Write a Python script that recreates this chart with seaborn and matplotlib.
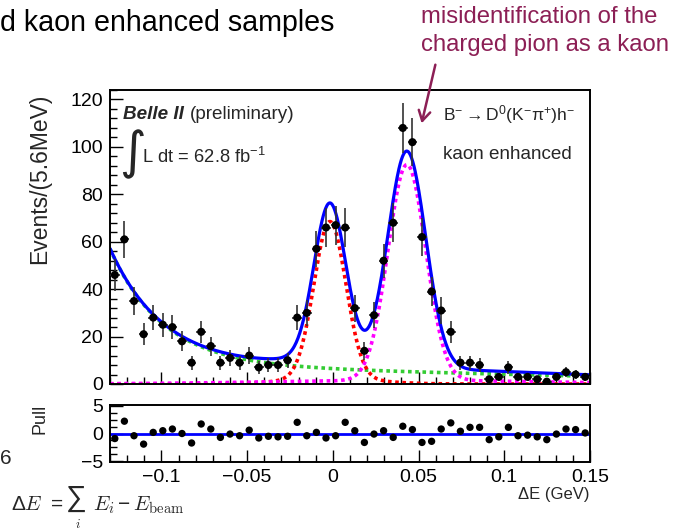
import numpy as np
import pandas as pd
import matplotlib
matplotlib.use("Agg")
import matplotlib.pyplot as plt
from matplotlib.ticker import MultipleLocator, AutoMinorLocator, FuncFormatter
import seaborn as sns

# Delta E histogram: 50 bins of 5.6 MeV between -0.13 and 0.15 GeV
x_lo, x_hi, n_bins = -0.13, 0.15, 50
counts = [46, 61, 35, 21, 28, 25, 24, 18, 9, 22,
          16, 9, 11, 9, 12, 7, 8, 8, 10, 28,
          30, 57, 66, 67, 66, 32, 14, 29, 52, 68,
          108, 102, 62, 39, 31, 22, 9, 9, 8, 2,
          3, 7, 3, 3, 2, 1, 3, 5, 4, 3]
pulls = [-0.9, 2.2, -0.4, -1.9, 0.2, 0.5, 0.8, 0.0, -1.7, 1.7,
         0.8, -0.7, -0.1, -0.4, 0.6, -0.8, -0.5, -0.6, -0.5, 2.0,
         -0.4, 0.2, -0.8, -0.4, 2.0, 0.5, -1.6, -0.1, 0.5, -0.7,
         1.3, 0.7, -1.6, -1.4, 0.8, 1.9, 0.4, 1.1, 1.1, -1.1,
         -0.6, 1.1, -0.4, -0.3, -0.6, -1.1, -0.1, 0.8, 0.7, 0.1]

# fitted model components (events per bin)
bkg_exp_amp, bkg_exp_tau = 49.0, 0.0306          # falling continuum
bkg_lin_c0, bkg_lin_c1 = 5.8, -17.0              # flat part of continuum
dk_amp, dk_mean, dk_sigma = 66.0, -0.0017, 0.0093        # B -> D K peak
dk_tail_amp, dk_tail_sigma = 2.5, 0.025
dpi_amp, dpi_mean, dpi_sigma = 91.0, 0.0432, 0.011       # B -> D pi (misID) peak
dpi_tail_amp, dpi_tail_sigma = 1.5, 0.08

x_ticks = [-0.1, -0.05, 0, 0.05, 0.1, 0.15]

bin_w = (x_hi - x_lo) / n_bins
centers = x_lo + bin_w * (np.arange(n_bins) + 0.5)
counts = np.array(counts, dtype=float)
data = pd.DataFrame({"dE": centers, "n": counts, "err": np.sqrt(counts), "pull": pulls})


def gauss(x, a, m, s):
    return a * np.exp(-0.5 * ((x - m) / s) ** 2)


xs = np.linspace(x_lo, x_hi, 800)
bkg = bkg_exp_amp * np.exp(-(xs - x_lo) / bkg_exp_tau) + bkg_lin_c0 + bkg_lin_c1 * xs
dk = gauss(xs, dk_amp, dk_mean, dk_sigma) + gauss(xs, dk_tail_amp, dk_mean, dk_tail_sigma)
dpi = gauss(xs, dpi_amp, dpi_mean, dpi_sigma) + gauss(xs, dpi_tail_amp, dpi_mean, dpi_tail_sigma)
model = pd.DataFrame({"dE": xs, "bkg": bkg, "dk": dk, "dpi": dpi, "total": bkg + dk + dpi})

sns.set_theme(style="ticks")
plt.rcParams["font.family"] = ["Liberation Sans", "DejaVu Sans"]
plt.rcParams["mathtext.fontset"] = "custom"
plt.rcParams["mathtext.rm"] = "Liberation Sans"
plt.rcParams["mathtext.it"] = "Liberation Sans:italic"
plt.rcParams["mathtext.default"] = "regular"

W, H = 673, 531
fig = plt.figure(figsize=(W / 100, H / 100), dpi=100)
fig.patch.set_facecolor("white")

ax = fig.add_axes([110 / W, 1 - 384 / H, 480 / W, 294 / H])
axp = fig.add_axes([110 / W, 1 - 462 / H, 480 / W, 57 / H], sharex=ax)

dot = (0, (1.0, 1.0))
sns.lineplot(data=model, x="dE", y="bkg", ax=ax, color="#33cc33", lw=2.6, linestyle=dot)
sns.lineplot(data=model, x="dE", y="dk", ax=ax, color="#ff0000", lw=2.6, linestyle=dot)
sns.lineplot(data=model, x="dE", y="dpi", ax=ax, color="#ff00ff", lw=2.6, linestyle=dot)
sns.lineplot(data=model, x="dE", y="total", ax=ax, color="#0000ff", lw=2.3)

ax.errorbar(data["dE"], data["n"], yerr=data["err"], xerr=bin_w / 2, fmt="none",
            ecolor="#333333", elinewidth=1.2, zorder=4)
sns.scatterplot(data=data, x="dE", y="n", ax=ax, color="black", s=34,
                edgecolor="none", zorder=5)

ax.set_xlim(x_lo, x_hi)
ax.set_ylim(0, 124)
ax.set_xlabel("")
ax.set_ylabel("")

# pull panel
axp.axhline(0, color="#0000ff", lw=2.0, zorder=2)
sns.scatterplot(data=data, x="dE", y="pull", ax=axp, color="black", s=28,
                edgecolor="none", zorder=5)
axp.set_ylim(-5.1, 5.1)
axp.set_xlabel("")
axp.set_ylabel("")


def fmt(v, pos):
    if abs(v) < 1e-9:
        return "0"
    return ("%g" % v).replace("-", "\u2212")


for a in (ax, axp):
    for s in a.spines.values():
        s.set_linewidth(1.4)
        s.set_color("black")
    a.set_xticks(x_ticks)
    a.xaxis.set_minor_locator(MultipleLocator(0.01))
    a.tick_params(which="both", direction="in", top=False, right=False,
                  colors="black", labelsize=14, width=1.0)
    a.tick_params(which="major", length=9)
    a.tick_params(which="minor", length=5)
    a.xaxis.set_major_formatter(FuncFormatter(fmt))
    a.yaxis.set_major_formatter(FuncFormatter(fmt))
    a.tick_params(axis="x", pad=5)
    a.tick_params(axis="y", pad=5)

ax.yaxis.set_major_locator(MultipleLocator(20))
ax.yaxis.set_minor_locator(MultipleLocator(4))
ax.tick_params(axis="x", labelbottom=False)
axp.yaxis.set_major_locator(MultipleLocator(5))
axp.yaxis.set_minor_locator(AutoMinorLocator(4))

# texts inside the main frame
fs_in = 13.6
ax.text(0.027, 0.918, "Belle II", transform=ax.transAxes, fontsize=fs_in,
        fontweight="bold", fontstyle="italic", va="center", ha="left")
ax.text(0.167, 0.918, "(preliminary)", transform=ax.transAxes, fontsize=fs_in,
        va="center", ha="left")
ax.text(0.020, 0.783, "\u222b", transform=ax.transAxes, fontsize=37,
        va="center", ha="left", family=["DejaVu Sans"])
ax.text(0.067, 0.772, "L dt = 62.8 fb$^{-1}$", transform=ax.transAxes, fontsize=13.2,
        va="center", ha="left")
ax.text(0.694, 0.918, r"B$^{-}\rightarrow$D$^{0}$(K$^{-}\pi^{+}$)h$^{-}$",
        transform=ax.transAxes, fontsize=12.6, va="center", ha="left")
ax.text(0.694, 0.779, "kaon enhanced", transform=ax.transAxes, fontsize=fs_in,
        va="center", ha="left")

# axis titles
fig.text(40 / W, 1 - 179 / H, "Events/(5.6MeV)", rotation=90, ha="center",
         va="center", fontsize=16.5)
fig.text(40 / W, 1 - 419 / H, "Pull", rotation=90, ha="center", va="center",
         fontsize=13)
fig.text(590 / W, 1 - 494 / H, "\u0394E (GeV)", ha="right", va="center", fontsize=12)

# slide text around the plot
purple = "#8c1f55"
fig.text(0 / W, 1 - 23 / H, "d kaon enhanced samples", ha="left", va="center",
         fontsize=20.6, color="black")
fig.text(421 / W, 1 - 17 / H, "misidentification of the", ha="left", va="center",
         fontsize=17.2, color=purple)
fig.text(421 / W, 1 - 45 / H, "charged pion as a kaon", ha="left", va="center",
         fontsize=17.2, color=purple)
ax.annotate("", xy=(421, H - 126), xytext=(436, H - 62),
            xycoords="figure pixels", textcoords="figure pixels",
            arrowprops=dict(arrowstyle="->,head_length=0.6,head_width=0.35",
                            color=purple, lw=1.8))

# Delta E definition
fig.text(11 / W, 1 - 505 / H, r"$\Delta \mathit{E}\ =$", ha="left", va="center",
         fontsize=15, math_fontfamily="cm")
fig.text(65 / W, 1 - 499 / H, r"$\sum$", ha="left", va="center",
         fontsize=21, math_fontfamily="cm")
fig.text(78 / W, 1 - 524 / H, r"$\mathit{i}$", ha="center", va="center",
         fontsize=9.5, math_fontfamily="cm")
fig.text(93 / W, 1 - 505 / H, r"$\mathit{E}_\mathit{i} - \mathit{E}_{\mathrm{beam}}$",
         ha="left", va="center", fontsize=15, math_fontfamily="cm")
fig.text(0, 1 - 459 / H, "6", ha="left", va="center", fontsize=15)

fig.savefig("out.png", dpi=100, facecolor="white")
